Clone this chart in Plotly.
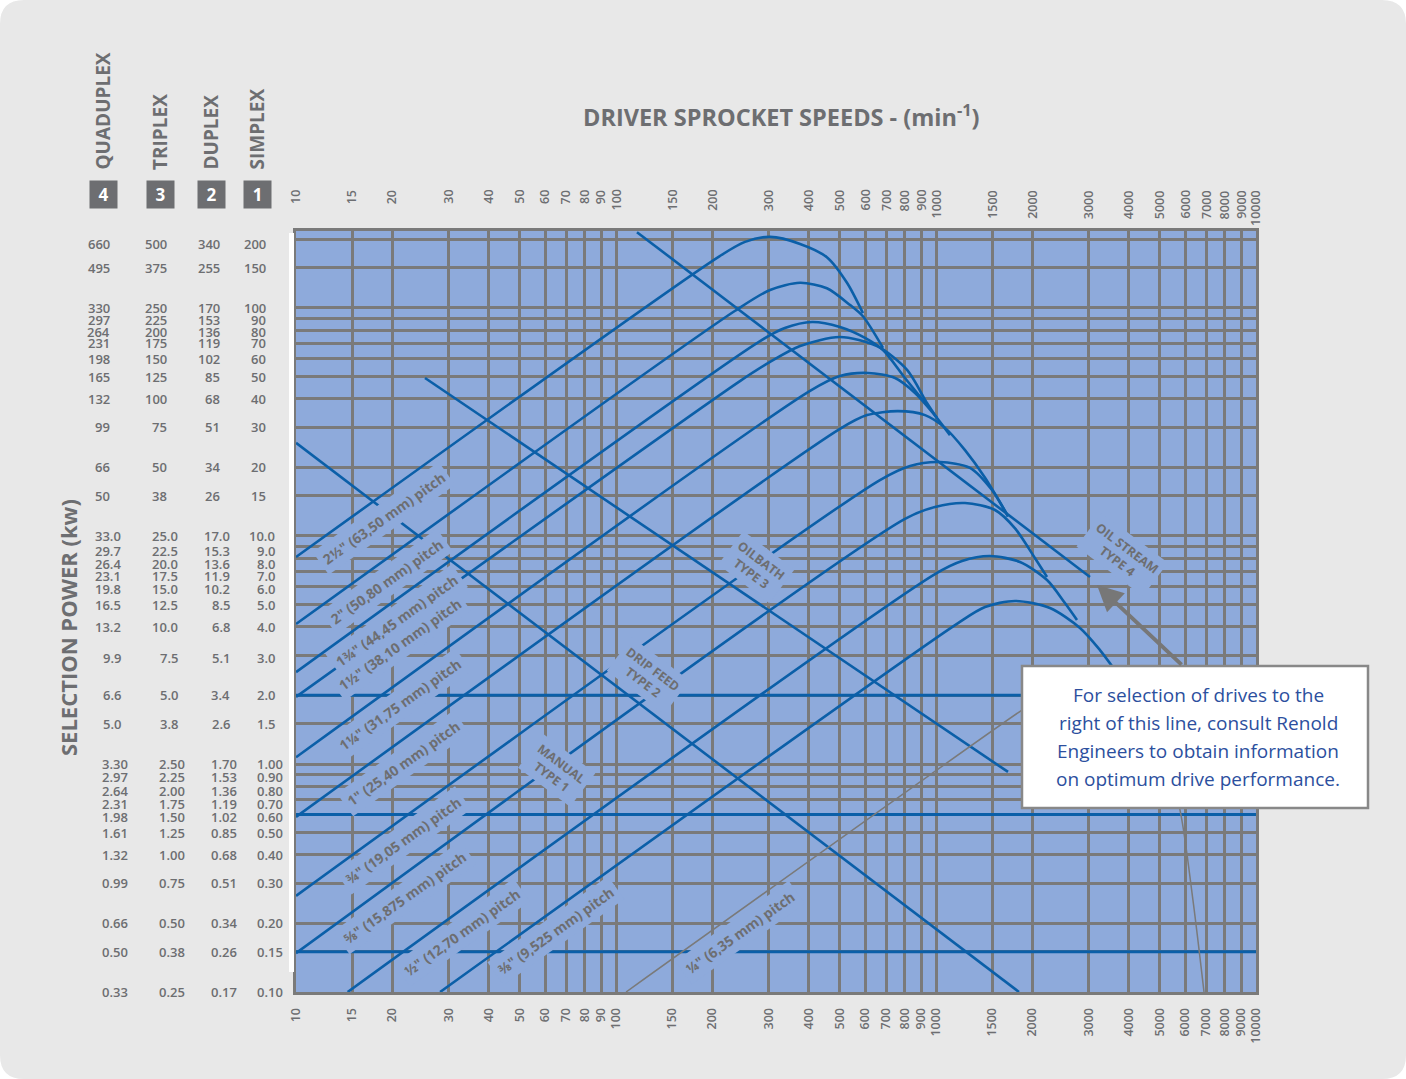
import numpy as np
import plotly.graph_objects as go

# Driver sprocket speeds (min-1) shown on the top and bottom axes
speeds = [10, 15, 20, 30, 40, 50, 60, 70, 80, 90, 100, 150, 200, 300, 400, 500, 600, 700, 800, 900,
          1000, 1500, 2000, 3000, 4000, 5000, 6000, 7000, 8000, 9000, 10000]

# Selection power scales (kW); the simplex column sets the horizontal grid
simplex_kw = [200, 150, 100, 90, 80, 70, 60, 50, 40, 30, 20, 15, 10, 9, 8, 7, 6, 5, 4, 3, 2, 1.5,
              1.0, 0.9, 0.8, 0.7, 0.6, 0.5, 0.4, 0.3, 0.2, 0.15, 0.1]
simplex_lbl = ["200", "150", "100", "90", "80", "70", "60", "50", "40", "30", "20", "15",
               "10.0", "9.0", "8.0", "7.0", "6.0", "5.0", "4.0", "3.0", "2.0", "1.5",
               "1.00", "0.90", "0.80", "0.70", "0.60", "0.50", "0.40", "0.30", "0.20", "0.15", "0.10"]
duplex_lbl = ["340", "255", "170", "153", "136", "119", "102", "85", "68", "51", "34", "26",
              "17.0", "15.3", "13.6", "11.9", "10.2", "8.5", "6.8", "5.1", "3.4", "2.6",
              "1.70", "1.53", "1.36", "1.19", "1.02", "0.85", "0.68", "0.51", "0.34", "0.26", "0.17"]
triplex_lbl = ["500", "375", "250", "225", "200", "175", "150", "125", "100", "75", "50", "38",
               "25.0", "22.5", "20.0", "17.5", "15.0", "12.5", "10.0", "7.5", "5.0", "3.8",
               "2.50", "2.25", "2.00", "1.75", "1.50", "1.25", "1.00", "0.75", "0.50", "0.38", "0.25"]
quadruplex_lbl = ["660", "495", "330", "297", "264", "231", "198", "165", "132", "99", "66", "50",
                  "33.0", "29.7", "26.4", "23.1", "19.8", "16.5", "13.2", "9.9", "6.6", "5.0",
                  "3.30", "2.97", "2.64", "2.31", "1.98", "1.61", "1.32", "0.99", "0.66", "0.50", "0.33"]

# Chain pitch rating curves (speed min-1, simplex kW)
p250_rpm = [10, 211, 253, 303, 376, 456, 527, 591]
p250_kw = [8.09, 169, 195, 205, 191, 167, 129, 95]
p200_rpm = [10, 235, 303, 376, 456, 539, 591, 683]
p200_kw = [4.11, 97, 120, 129, 122, 103, 92, 66.8]
p175_rpm = [10, 282, 337, 410, 501, 600, 683, 800, 937]
p175_kw = [2.53, 71.6, 81.7, 86.8, 82.5, 73.9, 65.4, 49.3, 37.5]
p150_rpm = [10, 244, 303, 376, 501, 654, 812, 937, 1007]
p150_kw = [1.97, 47.8, 58.0, 68.1, 74.6, 68.1, 53.5, 38.3, 32.9]
p125_rpm = [10, 404, 501, 613, 745, 860, 979, 1106]
p125_kw = [1.07, 43.3, 50.3, 51.9, 49.3, 42.4, 34.6, 27.7]
p100_rpm = [10, 501, 609, 761, 924, 1067, 1232, 1423, 1679]
p100_kw = [0.586, 29.5, 33.9, 35.3, 33.9, 29.8, 23.8, 18.0, 12.2]
p075_rpm = [10, 668, 830, 1029, 1277, 1496, 1679]
p075_kw = [0.264, 17.6, 20.3, 21.1, 19.9, 15.9, 12.2]
p0625_rpm = [10, 800, 993, 1232, 1529, 1766, 2037, 2223]
p0625_kw = [0.148, 11.9, 13.4, 13.95, 13.0, 10.8, 8.01, 6.61]
p050_rpm = [14.5, 993, 1206, 1475, 1830, 2223, 2529, 2758]
p050_kw = [0.1, 6.81, 7.77, 8.17, 7.69, 6.41, 5.08, 4.28]
p0375_rpm = [28.2, 1172, 1423, 1766, 2271, 2818, 3254, 3624]
p0375_kw = [0.1, 4.15, 4.88, 5.19, 4.83, 3.95, 3.16, 2.58]
p025_rpm = [107.5, 1857, 2441, 3254, 5012, 5788, 6353, 6879]
p025_kw = [0.1, 1.725, 2.22, 2.11, 1.274, 0.628, 0.253, 0.1]

# Lubrication boundaries
type4_rpm = [116.3, 3028]
type4_kw = [215, 6.61]
type3_rpm = [25.3, 1679]
type3_kw = [49.3, 0.923]
type2_rpm = [10, 1817]
type2_kw = [25.6, 0.1]
limit_kw = [2.0, 0.6, 0.15]

pitch_names = ['2½" (63,50 mm) pitch', '2" (50,80 mm) pitch', '1¾" (44,45 mm) pitch',
               '1½" (38,10 mm) pitch', '1¼" (31,75 mm) pitch', '1" (25,40 mm) pitch',
               '¾" (19,05 mm) pitch', '⅝" (15,875 mm) pitch', '½" (12,70 mm) pitch',
               '⅜" (9,525 mm) pitch', '¼" (6,35 mm) pitch']
lube_names = ["MANUAL<br>TYPE 1", "DRIP FEED<br>TYPE 2", "OILBATH<br>TYPE 3", "OIL STREAM<br>TYPE 4"]

# --- layout helpers (pixel -> paper) ---
W, H = 1406, 1079
PL, PR, PT, PB = 296, 1256, 231, 992


def fx(x):
    return (x - PL) / (PR - PL)


def fy(y):
    return (PB - y) / (PB - PT)


BLUE = "#0b5fa8"
GRID = "#7a7a7a"
TXT = "#6d6e71"
BG = "#8eaadb"
FONT = "Open Sans"

fig = go.Figure()

# thick limit lines
for k in limit_kw:
    fig.add_trace(go.Scatter(x=[10, 10000], y=[k, k], mode="lines",
                             line=dict(color=BLUE, width=3), hoverinfo="skip"))

# lubrication boundaries
for xs, ys in [(type4_rpm, type4_kw), (type3_rpm, type3_kw), (type2_rpm, type2_kw)]:
    fig.add_trace(go.Scatter(x=xs, y=ys, mode="lines", line=dict(color=BLUE, width=2.6), hoverinfo="skip"))

curves = [(p250_rpm, p250_kw), (p200_rpm, p200_kw), (p175_rpm, p175_kw), (p150_rpm, p150_kw),
          (p125_rpm, p125_kw), (p100_rpm, p100_kw), (p075_rpm, p075_kw), (p0625_rpm, p0625_kw),
          (p050_rpm, p050_kw), (p0375_rpm, p0375_kw)]
for xs, ys in curves:
    fig.add_trace(go.Scatter(x=xs, y=ys, mode="lines",
                             line=dict(color=BLUE, width=2.6, shape="spline", smoothing=0.8),
                             hoverinfo="skip"))
fig.add_trace(go.Scatter(x=p025_rpm, y=p025_kw, mode="lines",
                         line=dict(color=GRID, width=1.5, shape="spline", smoothing=0.8),
                         hoverinfo="skip"))

ann = []

# top speed labels (aligned at their far end, like the original)
for s in speeds:
    ann.append(dict(x=np.log10(s), xref="x", y=fy(188), yref="paper", text=str(s), textangle=-90,
                    xanchor="center", yanchor="top", showarrow=False,
                    font=dict(family=FONT, size=12.5, color=TXT, weight=600)))

# pitch labels along the curves
pitch_pos = [(18.8, 11.9), (19.25, 6.29), (20.7, 4.24), (21.1, 3.33), (21.1, 1.83), (21.6, 1.01),
             (21.6, 0.464), (21.9, 0.261), (33.0, 0.182), (64.9, 0.187), (244, 0.183)]
for name, (px_, py_) in zip(pitch_names, pitch_pos):
    ann.append(dict(x=np.log10(px_), y=np.log10(py_), xref="x", yref="y", text=name, showarrow=False,
                    textangle=-35.5, bgcolor=BG, borderpad=4, xanchor="center", yanchor="middle",
                    font=dict(family=FONT, size=14, color=TXT, weight=700)))

lube_pos = [(65.4, 0.941), (125.9, 2.456), (275.8, 7.31), (3811, 8.26)]
for name, (px_, py_) in zip(lube_names, lube_pos):
    ann.append(dict(x=np.log10(px_), y=np.log10(py_), xref="x", yref="y", text=name, showarrow=False,
                    textangle=37, bgcolor=BG, borderpad=4, xanchor="center", yanchor="middle",
                    font=dict(family=FONT, size=12.5, color=TXT, weight=700)))

# power scale columns (right edges per column, for the three number groups)
edges = {"Q": (112, 123, 130), "T": (169, 180, 187), "D": (222, 232, 239), "S": (268, 277, 285)}
nudge = {200: -5, 90: -2, 80: -1.5, 9: -5, 8: -6, 7: -5, 6: -2, 3: -3,
         0.9: -3, 0.8: -5, 0.7: -4.5, 0.6: -2.5}
for lbls, key in [(quadruplex_lbl, "Q"), (triplex_lbl, "T"), (duplex_lbl, "D"), (simplex_lbl, "S")]:
    for v, t in zip(simplex_kw, lbls):
        g = 0 if v >= 15 else (1 if v >= 1.5 else 2)
        ann.append(dict(x=fx(edges[key][g]), xref="paper", y=np.log10(v), yref="y", text=t,
                        xanchor="right", yanchor="middle", showarrow=False, yshift=nudge.get(v, 0),
                        font=dict(family=FONT, size=13, color=TXT, weight=600)))

# column headers and number boxes
for name, num, cx in [("QUADUPLEX", "4", 103), ("TRIPLEX", "3", 160), ("DUPLEX", "2", 211), ("SIMPLEX", "1", 257)]:
    ann.append(dict(x=fx(cx), y=fy(172), xref="paper", yref="paper", text=name, textangle=-90,
                    xanchor="center", yanchor="bottom", showarrow=False,
                    font=dict(family=FONT, size=19, color=TXT, weight=700)))
    ann.append(dict(x=fx(cx), y=fy(194.5), xref="paper", yref="paper", text=num, width=25, height=25,
                    bgcolor=TXT, showarrow=False, xanchor="center", yanchor="middle",
                    font=dict(family=FONT, size=17, color="white", weight=700)))

# titles
ann.append(dict(x=fx(781), y=fy(115), xref="paper", yref="paper", xanchor="center", yanchor="middle",
                text="DRIVER SPROCKET SPEEDS - (min<sup>-1</sup>)", showarrow=False,
                font=dict(family=FONT, size=23.5, color=TXT, weight=700)))
ann.append(dict(x=fx(68), y=fy(628), xref="paper", yref="paper", text="SELECTION POWER (kw)",
                xanchor="center", yanchor="middle", textangle=-90, showarrow=False,
                font=dict(family=FONT, size=22, color=TXT, weight=700)))

# note box text + arrow
note = ["For selection of drives to the", "right of this line, consult Renold",
        "Engineers to obtain information", "on optimum drive performance."]
for i, line in enumerate(note):
    ann.append(dict(x=fx(1198), y=fy(695 + 28 * i), xref="paper", yref="paper", text=line,
                    xanchor="center", yanchor="middle", showarrow=False,
                    font=dict(family=FONT, size=19, color="#2c4f9e")))
ann.append(dict(x=fx(1097), y=fy(585), xref="paper", yref="paper", text="", showarrow=True,
                ax=86, ay=81, arrowhead=2, arrowsize=1.3, arrowwidth=4, arrowcolor="#777777"))

shapes = [
    dict(type="rect", xref="paper", yref="paper", x0=fx(1022), x1=fx(1368), y0=fy(808), y1=fy(666),
         fillcolor="white", line=dict(color="#888888", width=2.5), layer="above"),
    dict(type="rect", xref="paper", yref="paper", x0=fx(289), x1=fx(294), y0=fy(972), y1=fy(233),
         fillcolor="white", line=dict(width=0)),
]
r = 24
for cx, cy, sx, sy in [(0, 0, 1, 1), (W, 0, -1, 1), (0, H, 1, -1), (W, H, -1, -1)]:
    path = (f"M {fx(cx)},{fy(cy)} L {fx(cx + sx * r)},{fy(cy)} "
            f"Q {fx(cx)},{fy(cy)} {fx(cx)},{fy(cy + sy * r)} Z")
    shapes.append(dict(type="path", path=path, xref="paper", yref="paper", fillcolor="white",
                       line=dict(width=0), layer="above"))

tickfont = dict(family=FONT, size=12.5, color=TXT, weight=600)
fig.update_layout(
    width=W, height=H,
    margin=dict(l=PL, r=W - PR, t=PT, b=H - PB),
    paper_bgcolor="#e8e8e8", plot_bgcolor=BG,
    showlegend=False,
    xaxis=dict(type="log", range=[1, 4], tickvals=speeds, ticktext=[str(s) for s in speeds],
               tickangle=-90, tickfont=tickfont, ticks="outside", ticklen=8, tickcolor="rgba(0,0,0,0)",
               showgrid=True, gridcolor=GRID, gridwidth=2.5,
               showline=True, linecolor=GRID, linewidth=3, mirror=True, zeroline=False),
    yaxis=dict(type="log", range=[-1, np.log10(217.6)], tickvals=simplex_kw, showticklabels=False,
               showgrid=True, gridcolor=GRID, gridwidth=2.5,
               showline=True, linecolor=GRID, linewidth=3, mirror=True, zeroline=False),
    annotations=ann,
    shapes=shapes,
)

fig.write_html("out.html", config={"displayModeBar": False},
               post_script="document.body.style.margin='0px';document.body.style.overflow='hidden';")
